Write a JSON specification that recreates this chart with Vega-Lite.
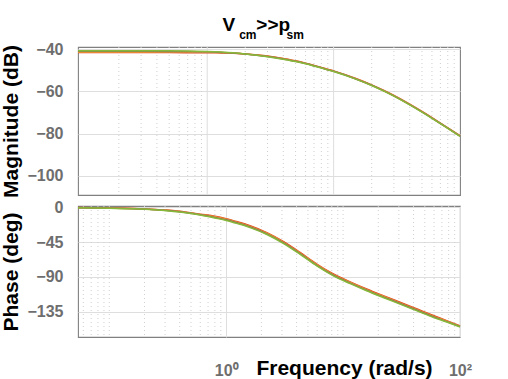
{
  "$schema": "https://vega.github.io/schema/vega-lite/v6.json",
  "background": "white",
  "padding": {"left": 0, "top": 15, "right": 5, "bottom": 0},
  "spacing": 11,
  "bounds": "flush",
  "config": {
    "font": "Liberation Sans",
    "concat": {"spacing": 11},
    "view": {"stroke": "#808080", "strokeWidth": 1.1},
    "axis": {
      "labelFont": "Liberation Sans", "labelFontWeight": "bold", "labelFontSize": 16, "labelColor": "#6e6e6e",
      "titleFont": "Liberation Sans", "titleFontWeight": "bold", "titleFontSize": 21, "titleColor": "#000000",
      "gridColor": "#dedede", "gridWidth": 1, "domain": false, "ticks": false, "tickSize": 0
    }
  },
  "datasets": {
    "xmajTop": [{"f":1},{"f":10}],
    "xminTop": [{"f":0.2},{"f":0.3},{"f":0.4},{"f":0.5},{"f":0.6},{"f":0.7},{"f":0.8},{"f":0.9},{"f":2},{"f":3},{"f":4},{"f":5},{"f":6},{"f":7},{"f":8},{"f":9},{"f":20},{"f":30},{"f":40},{"f":50},{"f":60},{"f":70},{"f":80},{"f":90}],
    "xminBot": [{"f":0.06},{"f":0.07},{"f":0.08},{"f":0.09},{"f":0.1},{"f":0.2},{"f":0.3},{"f":0.4},{"f":0.5},{"f":0.6},{"f":0.7},{"f":0.8},{"f":0.9},{"f":2},{"f":3},{"f":4},{"f":5},{"f":6},{"f":7},{"f":8},{"f":9},{"f":10},{"f":20},{"f":30},{"f":40},{"f":50},{"f":60},{"f":70},{"f":80},{"f":90}],
    "mag": [
      {"f":0.095,"s":"r","v":-41.6},{"f":0.2,"s":"r","v":-41.6},{"f":0.3,"s":"r","v":-41.6},{"f":0.5,"s":"r","v":-41.62},{"f":0.7,"s":"r","v":-41.67},{"f":1,"s":"r","v":-41.7},{"f":1.3,"s":"r","v":-41.8},{"f":1.6,"s":"r","v":-41.95},{"f":2,"s":"r","v":-42.3},{"f":3,"s":"r","v":-43.29},{"f":4,"s":"r","v":-44.48},{"f":5,"s":"r","v":-45.55},{"f":6,"s":"r","v":-46.65},{"f":7,"s":"r","v":-47.7},{"f":8,"s":"r","v":-48.65},{"f":10,"s":"r","v":-50.3},{"f":15,"s":"r","v":-53.91},{"f":20,"s":"r","v":-56.91},{"f":25,"s":"r","v":-59.58},{"f":30,"s":"r","v":-61.95},{"f":40,"s":"r","v":-66.07},{"f":50,"s":"r","v":-69.51},{"f":60,"s":"r","v":-72.44},{"f":70,"s":"r","v":-74.98},{"f":80,"s":"r","v":-77.21},{"f":100,"s":"r","v":-80.95},
      {"f":0.095,"s":"o","v":-41.35},{"f":0.2,"s":"o","v":-41.35},{"f":0.3,"s":"o","v":-41.35},{"f":0.5,"s":"o","v":-41.37},{"f":0.7,"s":"o","v":-41.42},{"f":1,"s":"o","v":-41.5},{"f":1.3,"s":"o","v":-41.65},{"f":1.6,"s":"o","v":-41.85},{"f":2,"s":"o","v":-42.3},{"f":3,"s":"o","v":-43.39},{"f":4,"s":"o","v":-44.58},{"f":5,"s":"o","v":-45.65},{"f":6,"s":"o","v":-46.75},{"f":7,"s":"o","v":-47.8},{"f":8,"s":"o","v":-48.75},{"f":10,"s":"o","v":-50.4},{"f":15,"s":"o","v":-54.01},{"f":20,"s":"o","v":-57.01},{"f":25,"s":"o","v":-59.68},{"f":30,"s":"o","v":-62.05},{"f":40,"s":"o","v":-66.17},{"f":50,"s":"o","v":-69.61},{"f":60,"s":"o","v":-72.54},{"f":70,"s":"o","v":-75.08},{"f":80,"s":"o","v":-77.31},{"f":100,"s":"o","v":-81.05},
      {"f":0.095,"s":"k","v":-41.05},{"f":0.2,"s":"k","v":-41.05},{"f":0.3,"s":"k","v":-41.05},{"f":0.5,"s":"k","v":-41.07},{"f":0.7,"s":"k","v":-41.12},{"f":1,"s":"k","v":-41.3},{"f":1.3,"s":"k","v":-41.55},{"f":1.6,"s":"k","v":-41.85},{"f":2,"s":"k","v":-42.3},{"f":3,"s":"k","v":-43.49},{"f":4,"s":"k","v":-44.68},{"f":5,"s":"k","v":-45.75},{"f":6,"s":"k","v":-46.85},{"f":7,"s":"k","v":-47.9},{"f":8,"s":"k","v":-48.85},{"f":10,"s":"k","v":-50.5},{"f":15,"s":"k","v":-54.11},{"f":20,"s":"k","v":-57.11},{"f":25,"s":"k","v":-59.78},{"f":30,"s":"k","v":-62.15},{"f":40,"s":"k","v":-66.27},{"f":50,"s":"k","v":-69.71},{"f":60,"s":"k","v":-72.64},{"f":70,"s":"k","v":-75.18},{"f":80,"s":"k","v":-77.41},{"f":100,"s":"k","v":-81.15},
      {"f":0.095,"s":"g","v":-40.8},{"f":0.2,"s":"g","v":-40.8},{"f":0.3,"s":"g","v":-40.8},{"f":0.5,"s":"g","v":-40.82},{"f":0.7,"s":"g","v":-40.87},{"f":1,"s":"g","v":-41.1},{"f":1.3,"s":"g","v":-41.4},{"f":1.6,"s":"g","v":-41.75},{"f":2,"s":"g","v":-42.3},{"f":3,"s":"g","v":-43.59},{"f":4,"s":"g","v":-44.78},{"f":5,"s":"g","v":-45.85},{"f":6,"s":"g","v":-46.95},{"f":7,"s":"g","v":-48.0},{"f":8,"s":"g","v":-48.95},{"f":10,"s":"g","v":-50.6},{"f":15,"s":"g","v":-54.21},{"f":20,"s":"g","v":-57.21},{"f":25,"s":"g","v":-59.88},{"f":30,"s":"g","v":-62.25},{"f":40,"s":"g","v":-66.37},{"f":50,"s":"g","v":-69.81},{"f":60,"s":"g","v":-72.74},{"f":70,"s":"g","v":-75.28},{"f":80,"s":"g","v":-77.51},{"f":100,"s":"g","v":-81.25}
    ],
    "phase": [
      {"f":0.054,"s":"r","v":-0.3},{"f":0.1,"s":"r","v":-0.9},{"f":0.161,"s":"r","v":-1.5},{"f":0.22,"s":"r","v":-2.4},{"f":0.311,"s":"r","v":-3.4},{"f":0.4,"s":"r","v":-5.1},{"f":0.6,"s":"r","v":-8.9},{"f":0.8,"s":"r","v":-11.4},{"f":1,"s":"r","v":-14.6},{"f":1.25,"s":"r","v":-18.7},{"f":1.6,"s":"r","v":-23.8},{"f":2.23,"s":"r","v":-32.7},{"f":3.1,"s":"r","v":-44.4},{"f":4.29,"s":"r","v":-58.3},{"f":5.96,"s":"r","v":-73.4},{"f":8.26,"s":"r","v":-86.2},{"f":11.5,"s":"r","v":-96.3},{"f":15.9,"s":"r","v":-105.5},{"f":22,"s":"r","v":-114.1},{"f":30.7,"s":"r","v":-122.7},{"f":43,"s":"r","v":-131.5},{"f":59.1,"s":"r","v":-139.8},{"f":77,"s":"r","v":-146.5},{"f":100,"s":"r","v":-153.2},
      {"f":0.054,"s":"o","v":-0.45},{"f":0.1,"s":"o","v":-1.05},{"f":0.161,"s":"o","v":-1.65},{"f":0.22,"s":"o","v":-2.55},{"f":0.311,"s":"o","v":-3.75},{"f":0.4,"s":"o","v":-5.45},{"f":0.6,"s":"o","v":-9.25},{"f":0.8,"s":"o","v":-12.2},{"f":1,"s":"o","v":-15.4},{"f":1.25,"s":"o","v":-19.5},{"f":1.6,"s":"o","v":-24.6},{"f":2.23,"s":"o","v":-33.5},{"f":3.1,"s":"o","v":-45.2},{"f":4.29,"s":"o","v":-59.1},{"f":5.96,"s":"o","v":-74.2},{"f":8.26,"s":"o","v":-87.0},{"f":11.5,"s":"o","v":-97.1},{"f":15.9,"s":"o","v":-106.3},{"f":22,"s":"o","v":-114.9},{"f":30.7,"s":"o","v":-123.5},{"f":43,"s":"o","v":-132.3},{"f":59.1,"s":"o","v":-140.6},{"f":77,"s":"o","v":-147.1},{"f":100,"s":"o","v":-153.7},
      {"f":0.054,"s":"k","v":-0.55},{"f":0.1,"s":"k","v":-1.15},{"f":0.161,"s":"k","v":-1.75},{"f":0.22,"s":"k","v":-2.65},{"f":0.311,"s":"k","v":-4.05},{"f":0.4,"s":"k","v":-5.75},{"f":0.6,"s":"k","v":-9.55},{"f":0.8,"s":"k","v":-13.0},{"f":1,"s":"k","v":-16.2},{"f":1.25,"s":"k","v":-20.3},{"f":1.6,"s":"k","v":-25.4},{"f":2.23,"s":"k","v":-34.3},{"f":3.1,"s":"k","v":-46.0},{"f":4.29,"s":"k","v":-59.9},{"f":5.96,"s":"k","v":-75.0},{"f":8.26,"s":"k","v":-87.8},{"f":11.5,"s":"k","v":-97.9},{"f":15.9,"s":"k","v":-107.1},{"f":22,"s":"k","v":-115.7},{"f":30.7,"s":"k","v":-124.3},{"f":43,"s":"k","v":-133.1},{"f":59.1,"s":"k","v":-141.4},{"f":77,"s":"k","v":-147.7},{"f":100,"s":"k","v":-154.1},
      {"f":0.054,"s":"g","v":-0.7},{"f":0.1,"s":"g","v":-1.3},{"f":0.161,"s":"g","v":-1.9},{"f":0.22,"s":"g","v":-2.8},{"f":0.311,"s":"g","v":-4.4},{"f":0.4,"s":"g","v":-6.1},{"f":0.6,"s":"g","v":-9.9},{"f":0.8,"s":"g","v":-13.8},{"f":1,"s":"g","v":-17.0},{"f":1.25,"s":"g","v":-21.1},{"f":1.6,"s":"g","v":-26.2},{"f":2.23,"s":"g","v":-35.1},{"f":3.1,"s":"g","v":-46.8},{"f":4.29,"s":"g","v":-60.7},{"f":5.96,"s":"g","v":-75.8},{"f":8.26,"s":"g","v":-88.6},{"f":11.5,"s":"g","v":-98.7},{"f":15.9,"s":"g","v":-107.9},{"f":22,"s":"g","v":-116.5},{"f":30.7,"s":"g","v":-125.1},{"f":43,"s":"g","v":-133.9},{"f":59.1,"s":"g","v":-142.2},{"f":77,"s":"g","v":-148.3},{"f":100,"s":"g","v":-154.6}
    ]
  },
  "vconcat": [
    {
      "width": 382,
      "height": 148,
      "title": {
        "text": "V\u00a0\u00a0\u00a0\u00a0>>p",
        "subtitle": "\u200b\u00a0\u00a0\u00a0\u00a0\u00a0cm\u00a0\u00a0\u00a0\u00a0\u00a0\u00a0\u00a0\u00a0\u00a0sm",
        "anchor": "start", "frame": "group", "dx": 144.5, "offset": 0,
        "font": "Liberation Sans", "fontSize": 19, "fontWeight": "bold", "color": "#000000",
        "subtitleFont": "Liberation Sans", "subtitleFontSize": 12, "subtitleFontWeight": "bold", "subtitleColor": "#000000",
        "subtitlePadding": -5
      },
      "layer": [
        {
          "data": {"name": "xminTop"},
          "mark": {"type": "rule", "color": "#d0d0d0", "strokeDash": [1, 3], "strokeWidth": 1},
          "encoding": {"x": {"field": "f", "type": "quantitative", "scale": {"type": "log", "domain": [0.095, 100], "nice": false}, "axis": null}}
        },
        {
          "data": {"name": "xmajTop"},
          "mark": {"type": "rule", "color": "#dedede", "strokeWidth": 1},
          "encoding": {"x": {"field": "f", "type": "quantitative", "scale": {"type": "log", "domain": [0.095, 100], "nice": false}, "axis": null}}
        },
        {
          "data": {"name": "mag"},
          "mark": {"type": "line", "strokeWidth": 1.5, "interpolate": "monotone"},
          "encoding": {
            "x": {"field": "f", "type": "quantitative", "scale": {"type": "log", "domain": [0.095, 100], "nice": false}, "axis": null},
            "y": {"field": "v", "type": "quantitative", "scale": {"domain": [-109, -39], "nice": false, "zero": false},
                  "axis": {"values": [-100, -80, -60, -40], "title": "Magnitude (dB)", "labelPadding": 15, "titlePadding": 5, "grid": true}},
            "color": {"field": "s", "type": "nominal", "scale": {"domain": ["r", "o", "k", "g"], "range": ["#e04a1c", "#ee9a3a", "#8a7456", "#86b83a"]}, "legend": null}
          }
        }
      ]
    },
    {
      "width": 382,
      "height": 131,
      "layer": [
        {
          "data": {"name": "xminBot"},
          "mark": {"type": "rule", "color": "#d0d0d0", "strokeDash": [1, 3], "strokeWidth": 1},
          "encoding": {"x": {"field": "f", "type": "quantitative", "scale": {"type": "log", "domain": [0.054, 100], "nice": false},
                  "axis": {"values": [1, 100], "labelExpr": "datum.value == 1 ? '10⁰' : '10²'", "labelPadding": 25, "labelFlush": false, "labelOverlap": false, "grid": true,
                           "title": "Frequency (rad/s)", "titleX": 266, "titleY": 37, "titleAlign": "center", "titleBaseline": "alphabetic"}}}
        },
        {
          "data": {"name": "phase"},
          "mark": {"type": "line", "strokeWidth": 1.5, "interpolate": "monotone"},
          "encoding": {
            "x": {"field": "f", "type": "quantitative", "scale": {"type": "log", "domain": [0.054, 100], "nice": false},
                  "axis": {"values": [1, 100], "labelExpr": "datum.value == 1 ? '10⁰' : '10²'", "labelPadding": 25, "labelFlush": false, "labelOverlap": false, "grid": true,
                           "title": "Frequency (rad/s)", "titleX": 266, "titleY": 37, "titleAlign": "center", "titleBaseline": "alphabetic"}},
            "y": {"field": "v", "type": "quantitative", "scale": {"domain": [-167.6, 1.7], "nice": false, "zero": false},
                  "axis": {"values": [-135, -90, -45, 0], "title": "Phase (deg)", "labelPadding": 15, "titlePadding": 5, "grid": true}},
            "color": {"field": "s", "type": "nominal", "scale": {"domain": ["r", "o", "k", "g"], "range": ["#e04a1c", "#ee9a3a", "#8a7456", "#86b83a"]}, "legend": null}
          }
        }
      ]
    }
  ],
  "resolve": {"scale": {"x": "independent"}}
}
